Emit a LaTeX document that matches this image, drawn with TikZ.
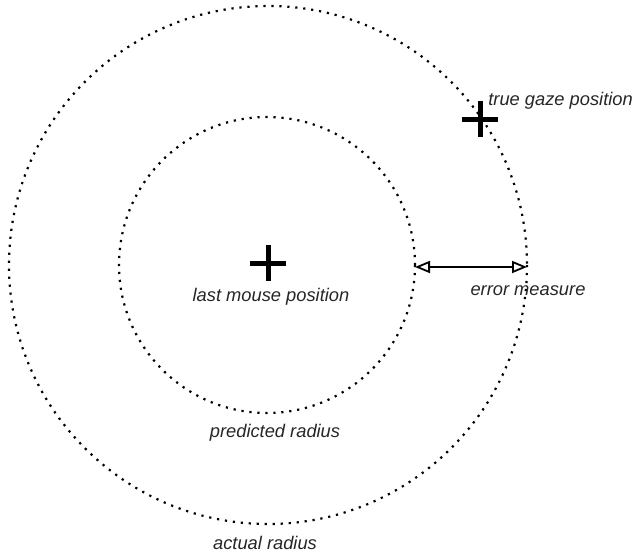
\documentclass[tikz,border=0pt]{standalone}
\usepackage{fontspec}
\setmainfont{Liberation Sans}
\usetikzlibrary{arrows.meta,calc}
\begin{document}
\begin{tikzpicture}[x=1pt,y=-1pt,
  ring/.style={draw=black, line width=2.2pt, dash pattern=on 2.2pt off 5.8pt},
  plusmark/.style={draw=black, line width=5pt},
  lbl/.style={font=\fontsize{18.3}{21}\selectfont\itshape, text=black!85, inner sep=0pt},
  measure/.style={draw=black, line width=1.8pt, {Triangle[open,length=15pt,width=12pt]}-{Triangle[open,length=15pt,width=12pt]}}]
\useasboundingbox (0,0) rectangle (635,557);
\coordinate (c) at (268,265);
\draw[ring] (c) circle[radius=259];
\draw[ring] (267,265) circle[radius=148];
% last mouse position
\coordinate (m) at (268,263);
\draw[plusmark] ($(m)+(-18,0)$) -- ($(m)+(18,0)$);
\draw[plusmark] ($(m)+(0,-18)$) -- ($(m)+(0,18)$);
\node[lbl] (ml) at (271,297) {last mouse position};
% true gaze
\coordinate (g) at (480,119);
\draw[plusmark] ($(g)+(-18,0)$) -- ($(g)+(18,0)$);
\draw[plusmark] ($(g)+(0,-18)$) -- ($(g)+(0,18)$);
\node[lbl, anchor=east] (gl) at (633,101) {true gaze position};
% error measure
\coordinate (e1) at (415,267);
\coordinate (e2) at (527,267);
\draw[measure] (e1) -- (e2);
\node[lbl] (el) at (528,291) {error measure};
\node[lbl] (pl) at (275,433) {predicted radius};
\node[lbl] (al) at (265,543) {actual radius};
\end{tikzpicture}
\end{document}
